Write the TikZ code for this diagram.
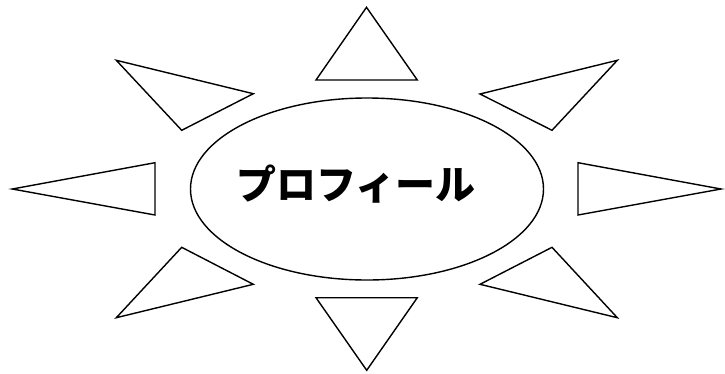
\documentclass[tikz,border=0pt]{standalone}
\usepackage{fontspec}
\newfontfamily\cjk{Noto Sans CJK JP Black}
\usetikzlibrary{shapes.geometric}
\begin{document}
\begin{tikzpicture}[x=1pt,y=-1pt,
  ray/.style={draw=black,line width=1.4pt,line join=miter},
  oval/.style={ellipse,draw=black,line width=1.4pt,minimum width=353pt,minimum height=182pt,inner sep=0pt}]
\useasboundingbox (0,0) rectangle (725,373);
\node[oval] (center) at (367,189) {};
\node[font=\cjk\fontsize{40}{42}\selectfont,inner sep=0pt] (title) at (356,184) {プロフィール};
% top
\draw[ray] (366.5,7.3) -- (316,80) -- (417.3,80) -- cycle;
% bottom
\draw[ray] (366.7,370.3) -- (316,297.7) -- (417.3,297.7) -- cycle;
% left
\draw[ray] (12.3,189) -- (155,162.7) -- (155,215) -- cycle;
% right
\draw[ray] (721,189) -- (578,162.7) -- (578,215) -- cycle;
% top-left
\draw[ray] (116.3,60.3) -- (253.3,93.7) -- (181.7,130.3) -- cycle;
% top-right
\draw[ray] (617.3,60.3) -- (480,94) -- (552,130.3) -- cycle;
% bottom-left
\draw[ray] (116.3,317.7) -- (253.3,284.3) -- (181.7,247.3) -- cycle;
% bottom-right
\draw[ray] (617.3,317.7) -- (480,284.3) -- (552,247.3) -- cycle;
\end{tikzpicture}
\end{document}
